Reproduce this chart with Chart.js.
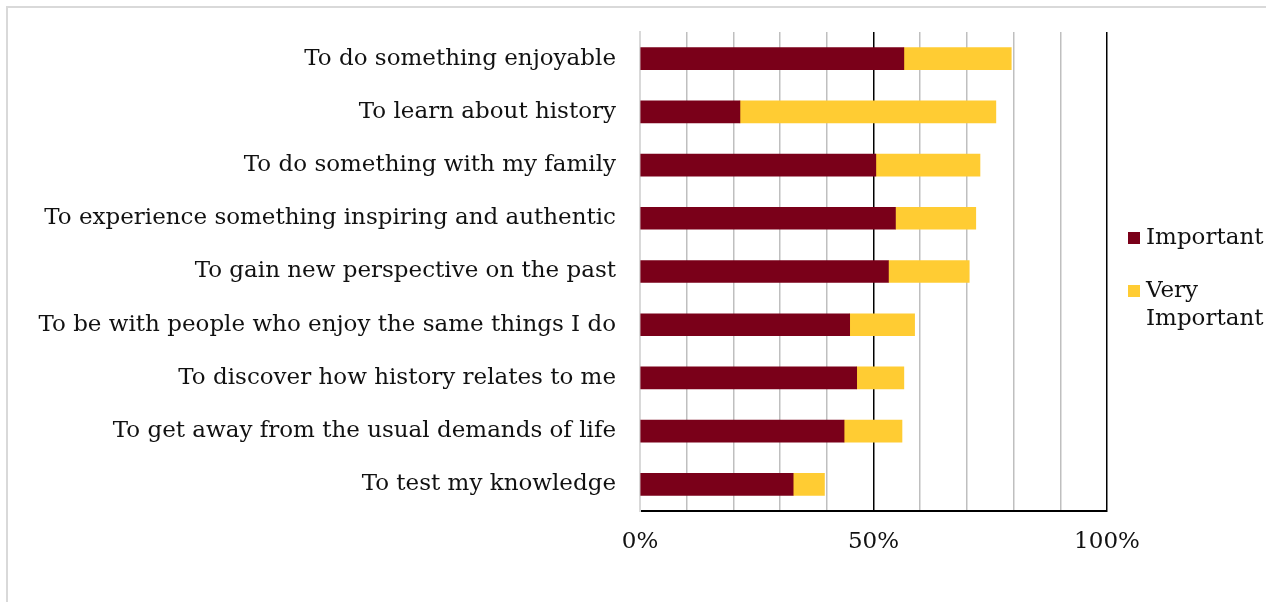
<!DOCTYPE html>
<html>
<head>
<meta charset="utf-8">
<script src="https://cdn.jsdelivr.net/npm/chart.js@4.4.1/dist/chart.umd.min.js"></script>
<style>
  html, body { margin:0; padding:0; background:#fff; }
  #wrap { position:relative; width:1266px; height:602px; overflow:hidden; }
  #frame { position:absolute; left:6px; top:6px; right:-4px; bottom:-4px; border-left:2px solid #d9d9d9; border-top:2px solid #d9d9d9; }
  #chart { position:absolute; left:0; top:0; }
  #legend { position:absolute; left:1128px; top:222px; font-family:"DejaVu Serif", serif; font-size:23px; color:#111; }
  .item { display:flex; align-items:flex-start; margin-bottom:25px; line-height:28px; }
  .box { width:12px; height:12px; margin-top:10px; margin-right:6px; flex:none; }
</style>
</head>
<body>
<div id="wrap">
  <div id="frame"></div>
  <canvas id="chart" width="1266" height="602"></canvas>
  <div id="legend"></div>
</div>
<script>
const categories = [
  "To do something enjoyable",
  "To learn about history",
  "To do something with my family",
  "To experience something inspiring and authentic",
  "To gain new perspective on the past",
  "To be with people who enjoy the same things I do",
  "To discover how history relates to me",
  "To get away from the usual demands of life",
  "To test my knowledge"
];
const important     = [56.5, 21.4, 50.5, 54.7, 53.2, 44.9, 46.4, 43.7, 32.8];
const veryImportant = [23.0, 54.8, 22.3, 17.2, 17.3, 13.9, 10.1, 12.4, 6.7];
const seriesNames = ["Important", "Very Important"];
const tickLabels = [0, 50, 100];

const COLORS = { red:"#7a0019", gold:"#ffcc33" };
const FONT = "DejaVu Serif";

new Chart(document.getElementById("chart"), {
  type: "bar",
  data: {
    labels: categories,
    datasets: [
      { label: seriesNames[0], data: important, backgroundColor: COLORS.red, barThickness: 22 },
      { label: seriesNames[1], data: veryImportant, backgroundColor: COLORS.gold, barThickness: 22 }
    ]
  },
  options: {
    indexAxis: "y",
    responsive: false,
    animation: false,
    layout: { padding: { left: 0, right: 159, top: 32, bottom: 0 } },
    plugins: { legend: { display: false }, tooltip: { enabled: false } },
    scales: {
      x: {
        stacked: true,
        min: 0, max: 100,
        ticks: {
          stepSize: 10,
          autoSkip: false,
          maxRotation: 0,
          padding: 17,
          color: "#111",
          font: { family: FONT, size: 23 },
          callback: (v) => tickLabels.includes(v) ? v + "%" : ""
        },
        grid: {
          drawTicks: false,
          lineWidth: 1.5,
          color: (c) => {
            const v = c.tick && c.tick.value;
            if (v === 50 || v === 100) return "#000";
            if (v === 0) return "#d9d9d9";
            return "#bfbfbf";
          }
        },
        border: { display: true, color: "#000", width: 2 },
        afterFit: (s) => { s.height = 91; }
      },
      y: {
        stacked: true,
        ticks: { color: "#111", padding: 16, font: { family: FONT, size: 23 } },
        grid: { display: false },
        border: { display: true, color: "#d9d9d9", width: 2 },
        afterFit: (s) => { s.width = 640; }
      }
    }
  }
});

// legend
const lg = document.getElementById("legend");
[[seriesNames[0], COLORS.red], ["Very<br>Important", COLORS.gold]].forEach(([t, c]) => {
  const d = document.createElement("div");
  d.className = "item";
  d.innerHTML = `<span class="box" style="background:${c}"></span><span>${t}</span>`;
  lg.appendChild(d);
});
</script>
</body>
</html>
